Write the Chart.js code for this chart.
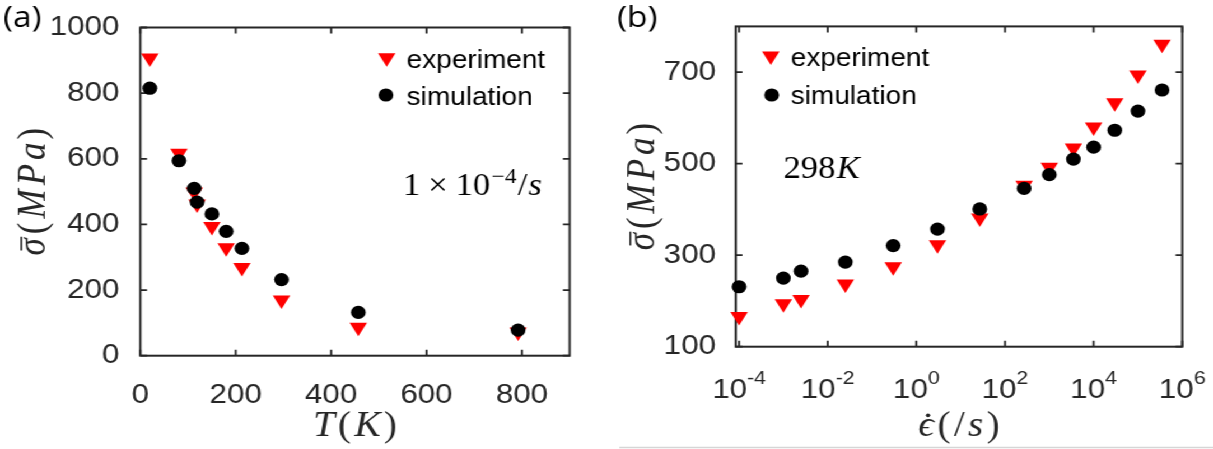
<!DOCTYPE html>
<html><head><meta charset="utf-8">
<script src="https://cdn.jsdelivr.net/npm/chart.js@4.4.1/dist/chart.umd.min.js"></script>
<style>
html,body{margin:0;padding:0;background:#fff;overflow:hidden;width:1213px;height:449px;}
#wrap{position:absolute;left:0;top:0;width:1083px;height:449px;transform:scaleX(1.12);transform-origin:0 0;}
#c1{position:absolute;left:0;top:0;}
#c2{position:absolute;left:545px;top:0;}
</style></head><body>
<div id="wrap"><canvas id="c1" width="545" height="449"></canvas><canvas id="c2" width="538" height="449"></canvas></div>
<script>
// ---- panel (a): stress vs temperature at 1e-4 /s ----
const tempExp    = [20, 81, 113, 119, 150, 180, 213, 296, 457, 792];
const stressExpT = [907, 617, 499, 462, 394, 329, 269, 170, 87, 72];
const tempSim    = [20, 81, 113, 119, 150, 180, 213, 296, 457, 792];
const stressSimT = [815, 594, 510, 468, 432, 379, 327, 232, 132, 78];
const tempTicks    = [0, 200, 400, 600, 800];
const stressTicksA = [0, 200, 400, 600, 800, 1000];

// ---- panel (b): stress vs strain rate at 298 K ----
const rateExp    = [1e-4, 1e-3, 2.5e-3, 2.5e-2, 0.3, 3, 27, 270, 1e3, 3.5e3, 1e4, 3e4, 1e5, 3.5e5];
const stressExpR = [166, 194, 203, 237, 275, 323, 381, 453, 492, 534, 580, 633, 694, 761];
const rateSim    = [1e-4, 1e-3, 2.5e-3, 2.5e-2, 0.3, 3, 27, 270, 1e3, 3.5e3, 1e4, 3e4, 1e5, 3.5e5];
const stressSimR = [231, 250, 265, 285, 321, 357, 401, 446, 476, 510, 536, 573, 615, 661];
const rateTickExps = [-4, -2, 0, 2, 4, 6];
const stressTicksB = [100, 300, 500, 700];

const seriesLabels = ['experiment', 'simulation'];

Chart.defaults.font.family = '"Liberation Sans", Arial, sans-serif';
const AX = '#262626';
const SERIF = '"Liberation Serif", "DejaVu Serif", serif';
const H = Chart.helpers;

function pts(xs, ys){ return xs.map((x,i)=>({x:x, y:ys[i]})); }

function drawRuns(ctx, runs, x, y, align){
  const ws = runs.map(r=>{ ctx.font = r.f; return ctx.measureText(r.t).width; });
  let total = 0;
  runs.forEach((r,i)=>{ total += ws[i] + (i < runs.length-1 ? (r.gap||0) : 0); });
  let cx = align==='center' ? x-total/2 : (align==='right' ? x-total : x);
  ctx.textAlign = 'left';
  ctx.textBaseline = 'alphabetic';
  runs.forEach((r,i)=>{
    ctx.font = r.f;
    ctx.fillText(r.t, cx, y + (r.dy||0));
    const S = r.s || 30;
    if (r.bar){
      ctx.save(); ctx.lineWidth = 1.6; ctx.strokeStyle = ctx.fillStyle;
      ctx.beginPath(); ctx.moveTo(cx + 0.14*S, y - 0.6*S); ctx.lineTo(cx + ws[i] + 0.04*S, y - 0.6*S); ctx.stroke(); ctx.restore();
    }
    if (r.dot){
      ctx.beginPath(); ctx.arc(cx + ws[i]*0.62, y - 0.6*S, 1.9, 0, Math.PI*2); ctx.fill();
    }
    cx += ws[i] + (r.gap||0);
  });
}

function makeChart(canvas, cfg){
  const plugin = {
    id: 'frame',
    beforeDatasetsDraw(chart){
      const ctx = chart.ctx, a = chart.chartArea, xs = chart.scales.x, ys = chart.scales.y;
      ctx.save();
      ctx.strokeStyle = AX; ctx.lineWidth = 2;
      ctx.strokeRect(a.left, a.top, a.right-a.left, a.bottom-a.top);
      ctx.lineWidth = 1.8;
      const tl = 6;
      cfg.xTickVals.forEach(v=>{
        const p = xs.getPixelForValue(v);
        ctx.beginPath(); ctx.moveTo(p, a.bottom); ctx.lineTo(p, a.bottom-tl); ctx.moveTo(p, a.top); ctx.lineTo(p, a.top+tl); ctx.stroke();
      });
      cfg.yTickVals.forEach(v=>{
        const p = ys.getPixelForValue(v);
        ctx.beginPath(); ctx.moveTo(a.left, p); ctx.lineTo(a.left+tl, p); ctx.moveTo(a.right, p); ctx.lineTo(a.right-tl, p); ctx.stroke();
      });
      ctx.restore();
    },
    afterDraw(chart){
      const ctx = chart.ctx, a = chart.chartArea, xs = chart.scales.x;
      ctx.save();
      // panel letter
      ctx.fillStyle = '#000';
      ctx.font = '30px "Open Sans", "Liberation Sans", sans-serif';
      ctx.textAlign = 'left'; ctx.textBaseline = 'alphabetic';
      ctx.fillText(cfg.letter, cfg.letterX, 27);
      // custom log tick labels
      if (cfg.logLabels){
        ctx.fillStyle = AX;
        cfg.logLabels.forEach(e=>{
          const p = xs.getPixelForValue(Math.pow(10, e));
          ctx.font = '28px "Liberation Sans", Arial, sans-serif';
          const w1 = ctx.measureText('10').width;
          ctx.font = '19px "Liberation Sans", Arial, sans-serif';
          const sup = String(e);
          const w2 = ctx.measureText(sup).width;
          const x0 = p - (w1+w2)/2;
          ctx.textAlign = 'left'; ctx.textBaseline = 'alphabetic';
          ctx.font = '28px "Liberation Sans", Arial, sans-serif';
          ctx.fillText('10', x0, 397.5);
          ctx.font = '19px "Liberation Sans", Arial, sans-serif';
          ctx.fillText(sup, x0 + w1, 383.5);
        });
      }
      // axis titles
      ctx.fillStyle = AX;
      const S = 35;
      const it = 'italic ' + S + 'px ' + SERIF, rm = S + 'px ' + SERIF;
      drawRuns(ctx, cfg.xTitle(it, rm, S), (a.left+a.right)/2, 436.3, 'center');
      ctx.save();
      ctx.translate(cfg.yTitleX, (a.top+a.bottom)/2);
      ctx.rotate(-Math.PI/2);
      drawRuns(ctx, [
        {t:'\u03C3', f:it, gap:4, bar:true, s:S},
        {t:'(', f:rm, gap:4}, {t:'M', f:it, gap:4}, {t:'P', f:it, gap:4},
        {t:'a', f:it, gap:3}, {t:')', f:rm}
      ], 0, 0.25*S, 'center');
      ctx.restore();
      // annotation
      ctx.fillStyle = '#000';
      cfg.annot(ctx);
      // legend
      const ds = chart.data.datasets;
      seriesLabels.forEach((lab, k)=>{
        const d = ds.find(q=>q.label===lab);
        const L = cfg.legend[k];
        ctx.fillStyle = d.pointBackgroundColor;
        H.drawPoint(ctx, {pointStyle: d.pointStyle, radius: d.pointRadius, rotation: d.pointRotation||0, borderWidth: 0}, L.mx, L.my);
        ctx.fillStyle = '#000';
        ctx.font = '25px "Liberation Sans", Arial, sans-serif';
        ctx.textAlign = 'left'; ctx.textBaseline = 'alphabetic';
        ctx.fillText(lab, L.tx, L.ty);
      });
      if (cfg.bottomLine){
        ctx.strokeStyle = '#d6d6d6'; ctx.lineWidth = 1.5;
        ctx.beginPath(); ctx.moveTo(8, 447.5); ctx.lineTo(chart.width, 447.5); ctx.stroke();
      }
      ctx.restore();
    }
  };

  return new Chart(canvas, {
    type: 'scatter',
    data: { datasets: [
      { label: seriesLabels[0], data: cfg.exp, pointStyle: 'triangle', pointRotation: 180, pointRadius: 9,
        pointBackgroundColor: '#ff0000', backgroundColor: '#ff0000', pointBorderWidth: 0, borderWidth: 0, order: 1, clip: false },
      { label: seriesLabels[1], data: cfg.sim, pointStyle: 'circle', pointRadius: 6.6,
        pointBackgroundColor: '#000000', backgroundColor: '#000000', pointBorderWidth: 0, borderWidth: 0, order: 0, clip: false }
    ]},
    options: {
      responsive: false, animation: false, events: [],
      layout: { padding: cfg.padding },
      plugins: { legend: { display: false }, tooltip: { enabled: false } },
      scales: {
        x: {
          type: cfg.xType, min: cfg.xMin, max: cfg.xMax, position: 'bottom',
          grid: { display: false }, border: { display: false },
          ticks: { display: cfg.xNativeLabels, color: AX, font: { size: 28 }, padding: 15, maxRotation: 0, autoSkip: false,
                   callback: v => String(v) },
          afterBuildTicks: s => { s.ticks = cfg.xTickVals.map(v=>({value:v})); },
          afterFit: s => { s.height = cfg.xAxisH; }
        },
        y: {
          type: 'linear', min: cfg.yMin, max: cfg.yMax, position: 'left',
          grid: { display: false }, border: { display: false },
          ticks: { color: AX, font: { size: 28 }, padding: cfg.yPad, autoSkip: false, callback: v => String(v) },
          afterBuildTicks: s => { s.ticks = cfg.yTickVals.map(v=>({value:v})); },
          afterFit: s => { s.width = cfg.yAxisW; }
        }
      }
    },
    plugins: [plugin]
  });
}

makeChart(document.getElementById('c1'), {
  exp: pts(tempExp, stressExpT), sim: pts(tempSim, stressSimT),
  xType: 'linear', xMin: 0, xMax: 900, yMin: 0, yMax: 1000,
  xTickVals: tempTicks, yTickVals: stressTicksA, xNativeLabels: true,
  padding: { left: 0, top: 22, right: 36.4, bottom: 0 },
  yAxisW: 125.3, xAxisH: 93.3, yPad: 10.7, yTitleX: 31.3,
  letter: '(a)', letterX: 2.7,
  xTitle: (it, rm, S) => [{t:'T', f:it, gap:3}, {t:'(', f:rm, gap:3}, {t:'K', f:it, gap:3}, {t:')', f:rm}],
  annot: ctx => drawRuns(ctx, [
    {t:'1', f:'31px '+SERIF, gap:7}, {t:'\u00D7', f:'31px '+SERIF, gap:7},
    {t:'10', f:'31px '+SERIF, gap:1}, {t:'\u22124', f:'21px '+SERIF, dy:-12, gap:1},
    {t:'/', f:'31px '+SERIF, gap:1}, {t:'s', f:'italic 31px '+SERIF}
  ], 359.8, 195, 'left'),
  legend: [ {mx:345.3, my:57.8, tx:363.1, ty:68.3}, {mx:344.6, my:95, tx:363.1, ty:105} ]
});

makeChart(document.getElementById('c2'), {
  exp: pts(rateExp, stressExpR), sim: pts(rateSim, stressSimR),
  xType: 'logarithmic', xMin: 8.4e-5, xMax: 1e6, yMin: 100, yMax: 800,
  xTickVals: rateTickExps.map(e=>Math.pow(10,e)), yTickVals: stressTicksB, xNativeLabels: false,
  logLabels: rateTickExps,
  padding: { left: 0, top: 21, right: 27.4, bottom: 0 },
  yAxisW: 111.9, xAxisH: 102.3, yPad: 9.6, yTitleX: 30,
  letter: '(b)', letterX: 6, bottomLine: true,
  xTitle: (it, rm, S) => [{t:'\u03F5', f:it, gap:3, dot:true, s:S}, {t:'(', f:rm, gap:3}, {t:'/', f:rm, gap:3}, {t:'s', f:it, gap:3}, {t:')', f:rm}],
  annot: ctx => drawRuns(ctx, [
    {t:'298', f:'31px '+SERIF, gap:1}, {t:'K', f:'italic 31px '+SERIF}
  ], 154.4, 178.3, 'left'),
  legend: [ {mx:143.2, my:56, tx:161, ty:66}, {mx:144, my:95, tx:161, ty:104} ]
});
</script>
</body></html>
